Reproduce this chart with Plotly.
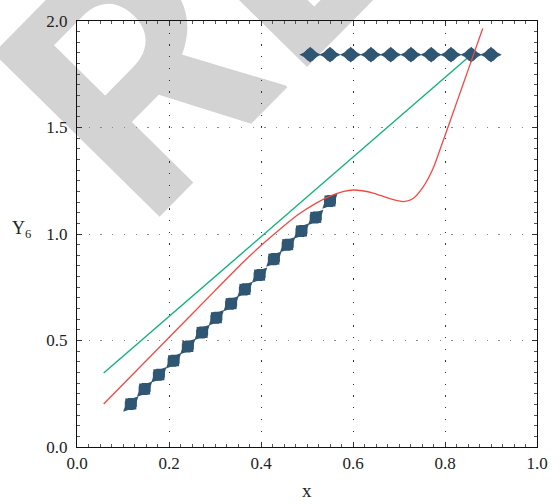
import plotly.graph_objects as go

# ---- data -------------------------------------------------------------
# lower diamond series
low_x = [0.117, 0.147, 0.178, 0.210, 0.241, 0.272, 0.303, 0.335,
         0.365, 0.397, 0.428, 0.458, 0.488, 0.519, 0.550]
low_y = [0.202, 0.272, 0.339, 0.405, 0.472, 0.538, 0.607, 0.673,
         0.740, 0.807, 0.882, 0.950, 1.014, 1.078, 1.155]

# upper diamond series
up_x = [0.507, 0.550, 0.595, 0.639, 0.682, 0.726, 0.770, 0.813, 0.857, 0.900]
up_y = [1.842, 1.842, 1.842, 1.842, 1.842, 1.842, 1.842, 1.842, 1.842, 1.842]

# straight (green) line
line_x = [0.058, 0.855]
line_y = [0.347, 1.838]

# curved (red) line
curve_x = [0.058, 0.130, 0.200, 0.300, 0.360, 0.400, 0.440, 0.480, 0.520,
           0.550, 0.580, 0.600, 0.620, 0.646, 0.680, 0.710, 0.731, 0.753,
           0.774, 0.795, 0.817, 0.838, 0.862, 0.882]
curve_y = [0.202, 0.360, 0.514, 0.734, 0.865, 0.946, 1.020, 1.090, 1.145,
           1.178, 1.200, 1.2065, 1.203, 1.191, 1.166, 1.152, 1.167, 1.222,
           1.307, 1.432, 1.566, 1.695, 1.842, 1.965]

x_ticks = [0.0, 0.2, 0.4, 0.6, 0.8, 1.0]
x_tick_labels = ["0.0", "0.2", "0.4", "0.6", "0.8", "1.0"]
y_ticks = [0.0, 0.5, 1.0, 1.5, 2.0]
y_tick_labels = ["0.0", "0.5", "1.0", "1.5", "2.0"]

# ---- styling -------------------------------------------------------------
W, H = 560, 504
ML, MR, MT, MB = 77, 14, 19, 57
PW, PH = W - ML - MR, H - MT - MB

DIAMOND = "#2f5672"
RED = "#f04a44"
GREEN = "#12b27a"
SERIF = "Liberation Serif"


def px_to_paper(px, py):
    return (px - ML) / PW, (H - MB - py) / PH


fig = go.Figure()

fig.add_trace(go.Scatter(x=line_x, y=line_y, mode="lines",
                         line=dict(color=GREEN, width=1.4), hoverinfo="skip"))

# each flattened diamond is built from a wide diamond, a square diamond and an
# octagon stacked on the same centre
for xs, ys, ang in ((low_x, low_y, -45), (up_x, up_y, 0)):
    for sym, size in (("diamond-wide", 15.5), ("diamond", 12), ("octagon", 13)):
        fig.add_trace(go.Scatter(x=xs, y=ys, mode="markers", hoverinfo="skip",
                                 marker=dict(symbol=sym, size=size, angle=ang,
                                             color=DIAMOND, line=dict(width=0))))

fig.add_trace(go.Scatter(x=curve_x, y=curve_y, mode="lines",
                         line=dict(color=RED, width=1.3, shape="spline", smoothing=0.7),
                         hoverinfo="skip"))

axis_common = dict(
    showline=True, linecolor="#111111", linewidth=1.2, mirror="ticks",
    ticks="inside", ticklen=5, tickcolor="#333333", tickwidth=1,
    tickfont=dict(family=SERIF, size=17, color="#222222"),
    showgrid=True, gridwidth=1.2, zeroline=False,
)

fig.update_xaxes(range=[0, 1], tickvals=x_ticks, ticktext=x_tick_labels,
                 gridcolor="#333333", griddash="1.3px,10.4px",
                 minor=dict(dtick=0.025, ticks="inside", ticklen=3,
                            tickcolor="#555555", showgrid=False),
                 **axis_common)
fig.update_yaxes(range=[0, 2], tickvals=y_ticks, ticktext=y_tick_labels,
                 gridcolor="#888888", griddash="1.3px,10.4px",
                 ticklabelstandoff=5,
                 minor=dict(dtick=0.05, ticks="inside", ticklen=3,
                            tickcolor="#555555", showgrid=False),
                 **axis_common)

# faded diagonal stamp behind the plot: an invisible 45-degree guide line
# carries the label text
sx, sy = px_to_paper(187, 270)
ex, ey = px_to_paper(237, 220)
fig.add_shape(type="line", xref="paper", yref="paper",
              x0=sx, y0=sy, x1=ex, y1=ey, layer="below",
              line=dict(width=0, color="rgba(0,0,0,0)"),
              label=dict(text="RETRACTED", textposition="start", padding=0,
                         yanchor="bottom",
                         font=dict(family="Roboto", size=328, color="#d3d3d3",
                                   weight="bold")))

fig.add_annotation(text="Y<sub>6</sub>", xref="paper", yref="y",
                   x=px_to_paper(20, 0)[0], y=1.02, xanchor="center", yanchor="middle",
                   showarrow=False, font=dict(family=SERIF, size=18, color="#222222"))
fig.add_annotation(text="x", xref="paper", yref="paper",
                   x=0.5, y=px_to_paper(0, 503.5)[1], xanchor="center", yanchor="bottom",
                   showarrow=False, font=dict(family=SERIF, size=19, color="#222222"))

fig.update_layout(
    width=W, height=H, autosize=False,
    margin=dict(l=ML, r=MR, t=MT, b=MB),
    paper_bgcolor="white", plot_bgcolor="white",
    showlegend=False,
)

fig.write_html("out.html")
